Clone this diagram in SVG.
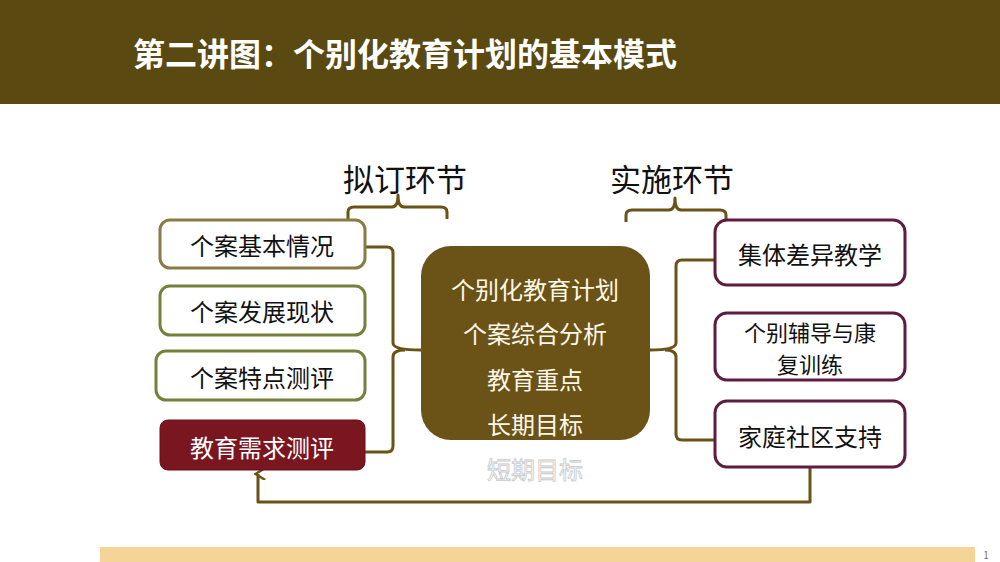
<svg xmlns="http://www.w3.org/2000/svg" width="1000" height="562" viewBox="0 0 1000 562">
<defs>
<style>
.t{font-family:"Noto Sans CJK SC","Noto Sans",sans-serif;text-anchor:middle;dominant-baseline:central}
.box{fill:#fff;stroke-width:3}
.l{stroke:#8a7b45}
.g{stroke:#76803a}
.r{stroke:#5e1c42}
.c{fill:none;stroke:#6b5318;stroke-width:3;stroke-linejoin:round}
</style>
<marker id="ah" viewBox="0 0 10 10" refX="5" refY="3" markerWidth="4" markerHeight="4" orient="auto-start-reverse" markerUnits="strokeWidth">
<path d="M0,9 L5,1 L10,9" fill="none" stroke="#6b5318" stroke-width="2"/>
</marker>
</defs>
<rect x="0" y="0" width="1000" height="562" fill="#fff"/>
<rect x="0" y="0" width="1000" height="104" fill="#5a4a12"/>
<text x="133" y="52" class="t" style="text-anchor:start;font-size:32px;font-weight:bold;fill:#fff">第二讲图：个别化教育计划的基本模式</text>
<rect x="100" y="547" width="875" height="15" fill="#f5d597"/>
<text x="986" y="554" class="t" style="font-size:10px;fill:#777">1</text>

<g id="header-left"><text x="405" y="177" class="t" style="font-size:31px;fill:#111">拟订环节</text></g>
<g id="header-right"><text x="672" y="177" class="t" style="font-size:31px;fill:#111">实施环节</text></g>

<g id="connectors">
<path class="c" d="M348,219 L348,212 Q348,207 354,207 L392,207 Q398,207 398,195 Q398,207 404,207 L441,207 Q447,207 447,212 L447,219"/>
<path class="c" d="M626,222 L626,215 Q626,210 632,210 L669,210 Q675,210 675,198 Q675,210 681,210 L720,210 Q726,210 726,215 L726,222"/>
<path class="c" d="M365,247 L387,247 Q393,247 393,253 L393,343 Q393,350 421,350"/>
<path class="c" d="M365,452 L387,452 Q393,452 393,446 L393,357 Q393,350 405,350"/>
<path class="c" d="M715,260 L682,260 Q676,260 676,266 L676,343 Q676,350 650,350"/>
<path class="c" d="M715,440 L682,440 Q676,440 676,434 L676,357 Q676,350 665,350"/>
<path class="c" d="M810,468 L810,502 L258,502 L258,474" marker-end="url(#ah)"/>
</g>

<g id="n-basic"><rect class="box l" x="160" y="220" width="205" height="48" rx="10"/><text x="262" y="244" class="t" style="font-size:24px;fill:#111">个案基本情况</text></g>
<g id="n-develop"><rect class="box g" x="160" y="286" width="205" height="49" rx="10"/><text x="262" y="310" class="t" style="font-size:24px;fill:#111">个案发展现状</text></g>
<g id="n-feature"><rect class="box g" x="156" y="351" width="209" height="49" rx="10"/><text x="262" y="376" class="t" style="font-size:24px;fill:#111">个案特点测评</text></g>
<g id="n-need"><rect x="160" y="420" width="205" height="50" rx="8" fill="#7a1620" stroke="#6a1018" stroke-width="1"/><text x="262" y="446" class="t" style="font-size:24px;fill:#fff">教育需求测评</text></g>

<g id="n-center"><rect x="421" y="246" width="229" height="194" rx="30" fill="#6b5318"/>
<text x="535" y="288" class="t" style="font-size:24px;fill:#fff8e8">个别化教育计划</text>
<text x="535" y="332" class="t" style="font-size:24px;fill:#fff8e8">个案综合分析</text>
<text x="535" y="378" class="t" style="font-size:24px;fill:#fff8e8">教育重点</text>
<text x="535" y="423" class="t" style="font-size:24px;fill:#fff8e8">长期目标</text>
<text x="535" y="468" class="t" style="font-size:24px;fill:#fff;stroke:#c8c8c8;stroke-width:0.8">短期目标</text>
</g>

<g id="n-group"><rect class="box r" x="715" y="220" width="190" height="65" rx="12"/><text x="810" y="253" class="t" style="font-size:24px;fill:#111">集体差异教学</text></g>
<g id="n-individual"><rect class="box r" x="715" y="313" width="190" height="67" rx="12"/><text x="810" y="331" class="t" style="font-size:22px;fill:#111">个别辅导与康</text><text x="810" y="363" class="t" style="font-size:22px;fill:#111">复训练</text></g>
<g id="n-family"><rect class="box r" x="715" y="401" width="190" height="66" rx="12"/><text x="810" y="435" class="t" style="font-size:24px;fill:#111">家庭社区支持</text></g>
</svg>
